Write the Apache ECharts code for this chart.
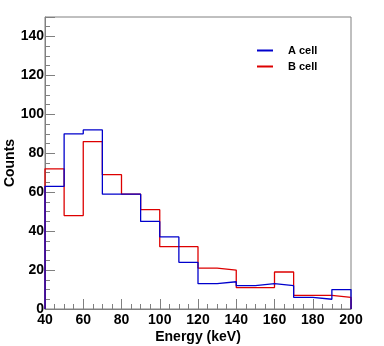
<!DOCTYPE html>
<html>
<head>
<meta charset="utf-8">
<script src="https://cdn.jsdelivr.net/npm/echarts@6/dist/echarts.min.js"></script>
<style>
  html, body { margin: 0; padding: 0; background: #fff; }
  #main { width: 384px; height: 346px; }
</style>
</head>
<body>
<div id="main"></div>
<script>
// bin left edges (keV), bin width 10
var binEdges = [40, 50, 60, 70, 80, 90, 100, 110, 120, 130, 140, 150, 160, 170, 180, 190];
var binWidth = 10;
var aCell = [63, 90, 92, 59, 59, 45, 37, 24, 13, 14, 12, 13, 12, 6, 5, 10];
var bCell = [72, 48, 86, 69, 59, 51, 32, 32, 21, 20, 11, 11, 19, 7, 7, 6];

// histogram outline as step line: rise from 0 at first edge, fall to 0 at last edge
function histPoints(vals) {
  var pts = [[binEdges[0], 0]];
  for (var i = 0; i < vals.length; i++) {
    pts.push([binEdges[i], vals[i]]);
  }
  var last = binEdges[binEdges.length - 1] + binWidth;
  pts.push([last, vals[vals.length - 1]]);
  pts.push([last, 0]);
  return pts;
}

var chart = echarts.init(document.getElementById('main'), null, { renderer: 'canvas' });

var font = '"Liberation Sans", Arial, sans-serif';

var option = {
  backgroundColor: '#ffffff',
  animation: false,
  grid: {
    left: 45,
    right: 33,
    top: 17,
    bottom: 37,
    containLabel: false,
    outerBoundsMode: 'none',
    show: true,
    borderColor: '#808080',
    borderWidth: 1,
    backgroundColor: 'transparent'
  },
  legend: {
    orient: 'vertical',
    left: 252,
    top: 40,
    itemWidth: 16,
    itemHeight: 2,
    itemGap: 5,
    icon: 'rect',
    data: ['A cell', 'B cell'],
    textStyle: {
      fontFamily: font,
      fontSize: 11,
      fontWeight: 'bold',
      color: '#000',
      padding: [0, 0, 0, 10]
    }
  },
  xAxis: {
    type: 'value',
    min: 40,
    max: 200,
    interval: 20,
    name: 'Energy (keV)',
    nameLocation: 'middle',
    nameGap: 21,
    nameMoveOverlap: false,
    nameTextStyle: { fontFamily: font, fontSize: 14, fontWeight: 'bold', color: '#000' },
    axisLine: { show: true, lineStyle: { color: '#808080', width: 1 } },
    axisTick: { show: true, inside: true, length: 10, lineStyle: { color: '#808080' } },
    minorTick: { show: true, splitNumber: 4, length: 5, lineStyle: { color: '#808080' } },
    splitLine: { show: false },
    axisLabel: { fontFamily: font, fontSize: 14, fontWeight: 'bold', color: '#000', margin: 4 }
  },
  yAxis: {
    type: 'value',
    min: 0,
    max: 150,
    interval: 20,
    name: 'Counts',
    nameLocation: 'middle',
    nameGap: 28,
    nameMoveOverlap: false,
    nameTextStyle: { fontFamily: font, fontSize: 14, fontWeight: 'bold', color: '#000' },
    axisLine: { show: true, lineStyle: { color: '#808080', width: 1 } },
    axisTick: { show: true, inside: true, length: 10, lineStyle: { color: '#808080' } },
    minorTick: { show: true, splitNumber: 4, length: 5, lineStyle: { color: '#808080' } },
    splitLine: { show: false },
    axisLabel: {
      fontFamily: font, fontSize: 14, fontWeight: 'bold', color: '#000', margin: 1,
      showMaxLabel: false
    }
  },
  series: [
    {
      name: 'B cell',
      type: 'line',
      step: 'end',
      data: histPoints(bCell),
      symbol: 'none',
      color: '#dd0000',
      lineStyle: { color: '#dd0000', width: 1.3 },
      z: 2
    },
    {
      name: 'A cell',
      type: 'line',
      step: 'end',
      data: histPoints(aCell),
      symbol: 'none',
      color: '#0000cc',
      lineStyle: { color: '#0000cc', width: 1.3 },
      z: 3
    }
  ]
};

chart.setOption(option);
</script>
</body>
</html>
